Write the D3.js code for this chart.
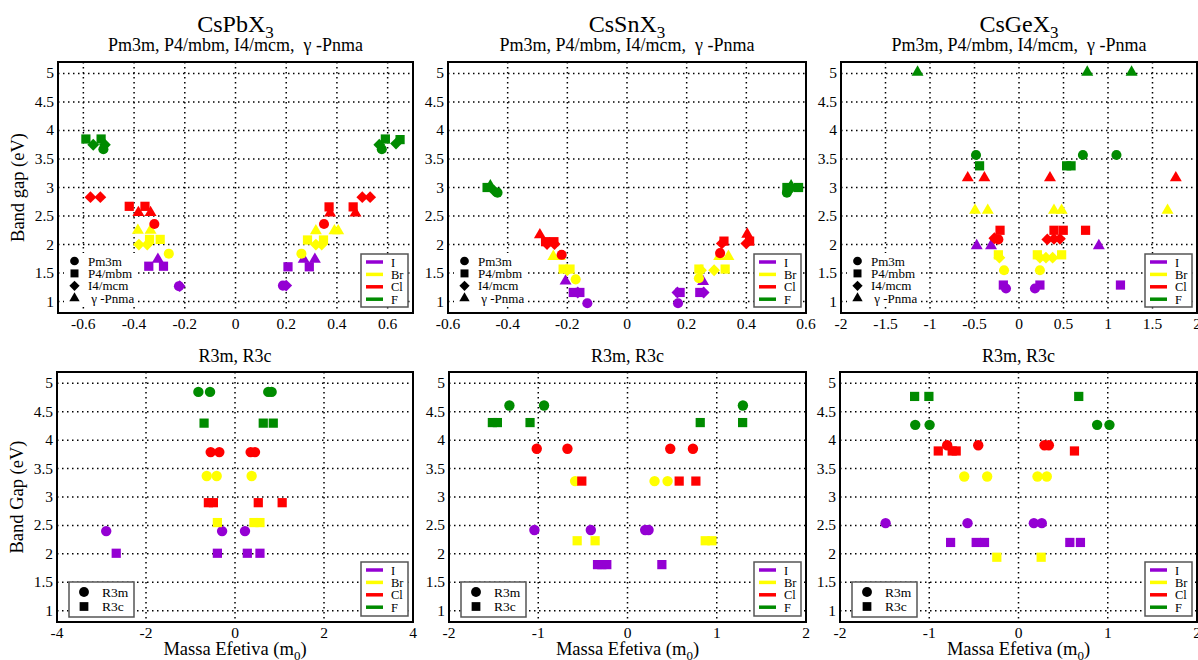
<!DOCTYPE html>
<html>
<head>
<meta charset="utf-8">
<script src="https://cdn.jsdelivr.net/npm/d3@7"></script>
<style>
  body { margin: 0; background: #fff; }
  svg { display: block; }
  text { font-family: "Liberation Serif", "DejaVu Serif", serif; fill: #000; }
</style>
</head>
<body>
<svg id="chart" width="1198" height="660"></svg>
<script>
// halides (colour) and phases (marker shape)
var halides = ["I", "Br", "Cl", "F"];
var halideColors = ["#9400d3", "#ffff00", "#ff0000", "#008b00"];
var cubicPhases = ["Pm3m", "P4/mbm", "I4/mcm", "Pnma"];
var cubicPhaseLabels = ["Pm3m", "P4/mbm", "I4/mcm", " \u03b3 -Pnma"];
var rhombPhases = ["R3m", "R3c"];
var gapTicks = [1, 1.5, 2, 2.5, 3, 3.5, 4, 4.5, 5];

// [halide, phase, effective mass (m0), band gap (eV)]
var pbCubic = [
  ["I","Pnma",-0.306,1.74],["I","P4/mbm",-0.342,1.62],["I","P4/mbm",-0.284,1.62],["I","I4/mcm",-0.22,1.27],["I","Pm3m",-0.223,1.27],
  ["I","P4/mbm",0.207,1.61],["I","P4/mbm",0.291,1.61],["I","Pnma",0.269,1.74],["I","Pnma",0.313,1.74],["I","I4/mcm",0.20,1.28],["I","Pm3m",0.187,1.28],
  ["Br","Pnma",-0.385,2.25],["Br","Pnma",-0.335,2.25],["Br","P4/mbm",-0.339,2.09],["Br","P4/mbm",-0.297,2.09],["Br","I4/mcm",-0.381,2.0],["Br","I4/mcm",-0.348,2.0],["Br","Pm3m",-0.263,1.84],
  ["Br","Pnma",0.317,2.24],["Br","Pnma",0.39,2.24],["Br","Pnma",0.405,2.24],["Br","P4/mbm",0.284,2.08],["Br","P4/mbm",0.347,2.08],["Br","I4/mcm",0.317,2.0],["Br","I4/mcm",0.34,2.0],["Br","Pm3m",0.26,1.84],
  ["Cl","I4/mcm",-0.572,2.83],["Cl","I4/mcm",-0.533,2.83],["Cl","P4/mbm",-0.419,2.67],["Cl","P4/mbm",-0.357,2.67],["Cl","Pnma",-0.383,2.56],["Cl","Pnma",-0.335,2.56],["Cl","Pm3m",-0.320,2.36],
  ["Cl","I4/mcm",0.50,2.83],["Cl","I4/mcm",0.531,2.83],["Cl","P4/mbm",0.369,2.66],["Cl","P4/mbm",0.464,2.66],["Cl","Pnma",0.373,2.55],["Cl","Pnma",0.473,2.55],["Cl","Pm3m",0.349,2.36],
  ["F","P4/mbm",-0.59,3.85],["F","I4/mcm",-0.561,3.75],["F","P4/mbm",-0.53,3.85],["F","I4/mcm",-0.515,3.75],["F","Pm3m",-0.521,3.67],
  ["F","P4/mbm",0.591,3.85],["F","I4/mcm",0.567,3.75],["F","Pm3m",0.577,3.67],["F","P4/mbm",0.649,3.84],["F","I4/mcm",0.633,3.77]
];
var snCubic = [
  ["I","Pnma",-0.206,1.36],["I","P4/mbm",-0.18,1.16],["I","P4/mbm",-0.158,1.16],["I","I4/mcm",-0.165,1.16],["I","Pm3m",-0.133,0.97],
  ["I","Pnma",0.255,1.35],["I","P4/mbm",0.178,1.16],["I","P4/mbm",0.244,1.16],["I","I4/mcm",0.169,1.16],["I","I4/mcm",0.257,1.16],["I","Pm3m",0.171,0.97],
  ["Br","Pnma",-0.247,1.79],["Br","Pnma",-0.225,1.79],["Br","P4/mbm",-0.214,1.57],["Br","P4/mbm",-0.191,1.57],["Br","I4/mcm",-0.2,1.55],["Br","Pm3m",-0.172,1.39],
  ["Br","Pnma",0.309,1.79],["Br","Pnma",0.34,1.79],["Br","P4/mbm",0.241,1.57],["Br","P4/mbm",0.329,1.57],["Br","I4/mcm",0.292,1.55],["Br","I4/mcm",0.248,1.55],["Br","Pm3m",0.241,1.41],
  ["Cl","Pnma",-0.292,2.17],["Cl","P4/mbm",-0.273,2.05],["Cl","P4/mbm",-0.245,2.05],["Cl","I4/mcm",-0.268,2.01],["Cl","I4/mcm",-0.243,2.01],["Cl","Pm3m",-0.219,1.82],
  ["Cl","P4/mbm",0.325,2.06],["Cl","I4/mcm",0.318,2.02],["Cl","Pnma",0.403,2.18],["Cl","P4/mbm",0.411,2.06],["Cl","I4/mcm",0.40,2.02],["Cl","Pm3m",0.312,1.85],
  ["F","P4/mbm",-0.469,3.0],["F","Pnma",-0.458,3.03],["F","I4/mcm",-0.447,2.95],["F","Pm3m",-0.434,2.91],
  ["F","P4/mbm",0.536,3.0],["F","Pm3m",0.536,2.91],["F","I4/mcm",0.545,2.96],["F","Pnma",0.55,3.03],["F","P4/mbm",0.575,3.0]
];
var geCubic = [
  ["I","Pnma",-0.475,1.98],["I","Pnma",-0.314,1.98],["I","Pnma",0.897,1.98],["I","P4/mbm",-0.176,1.29],["I","P4/mbm",0.235,1.29],["I","P4/mbm",1.14,1.29],["I","Pm3m",-0.146,1.23],["I","Pm3m",0.179,1.23],
  ["Br","Pnma",-0.494,2.6],["Br","Pnma",-0.351,2.6],["Br","Pnma",0.393,2.6],["Br","Pnma",0.479,2.6],["Br","Pnma",1.669,2.6],
  ["Br","P4/mbm",-0.232,1.82],["Br","P4/mbm",0.206,1.82],["Br","P4/mbm",0.479,1.82],
  ["Br","I4/mcm",-0.22,1.77],["Br","I4/mcm",0.235,1.77],["Br","I4/mcm",0.303,1.77],["Br","I4/mcm",0.378,1.77],["Br","Pm3m",-0.168,1.55],["Br","Pm3m",0.235,1.55],
  ["Cl","Pnma",-0.576,3.17],["Cl","Pnma",-0.389,3.17],["Cl","Pnma",0.348,3.17],["Cl","Pnma",1.762,3.17],
  ["Cl","P4/mbm",-0.213,2.25],["Cl","P4/mbm",0.393,2.25],["Cl","P4/mbm",0.497,2.25],["Cl","P4/mbm",0.748,2.25],
  ["Cl","I4/mcm",-0.277,2.11],["Cl","I4/mcm",0.318,2.09],["Cl","I4/mcm",0.393,2.1],["Cl","I4/mcm",0.46,2.1],["Cl","Pm3m",-0.232,2.09],
  ["F","Pnma",-1.14,5.02],["F","Pnma",0.767,5.02],["F","Pnma",1.265,5.02],
  ["F","Pm3m",-0.483,3.57],["F","Pm3m",0.718,3.57],["F","Pm3m",1.095,3.57],["F","P4/mbm",-0.443,3.38],["F","P4/mbm",0.535,3.38],["F","P4/mbm",0.585,3.38]
];
var pbRhomb = [
  ["I","R3m",-2.894,2.40],["I","R3m",-0.29,2.40],["I","R3m",0.224,2.40],["I","R3c",-2.669,2.01],["I","R3c",-0.396,2.01],["I","R3c",0.277,2.01],["I","R3c",0.561,2.01],
  ["Br","R3m",-0.635,3.37],["Br","R3m",-0.411,3.37],["Br","R3m",0.374,3.37],["Br","R3c",-0.396,2.55],["Br","R3c",0.426,2.55],["Br","R3c",0.561,2.55],
  ["Cl","R3m",-0.546,3.79],["Cl","R3m",-0.352,3.79],["Cl","R3m",0.352,3.79],["Cl","R3m",0.449,3.79],["Cl","R3c",-0.598,2.90],["Cl","R3c",-0.486,2.90],["Cl","R3c",0.523,2.90],["Cl","R3c",1.06,2.90],
  ["F","R3m",-0.823,4.85],["F","R3m",-0.561,4.85],["F","R3m",0.748,4.85],["F","R3m",0.823,4.85],["F","R3c",-0.695,4.30],["F","R3c",0.635,4.30],["F","R3c",0.86,4.30]
];
var snRhomb = [
  ["I","R3m",-1.043,2.42],["I","R3m",-0.411,2.42],["I","R3m",0.198,2.42],["I","R3m",0.236,2.42],["I","R3c",-0.336,1.81],["I","R3c",-0.288,1.81],["I","R3c",-0.232,1.81],["I","R3c",0.385,1.81],
  ["Br","R3m",-0.587,3.28],["Br","R3m",0.303,3.28],["Br","R3m",0.449,3.28],["Br","R3c",-0.564,2.23],["Br","R3c",-0.363,2.23],["Br","R3c",0.871,2.23],["Br","R3c",0.946,2.23],
  ["Cl","R3m",-1.017,3.85],["Cl","R3m",-0.673,3.85],["Cl","R3m",0.479,3.85],["Cl","R3m",0.733,3.85],["Cl","R3c",-0.512,3.28],["Cl","R3c",0.579,3.28],["Cl","R3c",0.766,3.28],
  ["F","R3m",-1.323,4.61],["F","R3m",-0.935,4.61],["F","R3m",1.293,4.61],["F","R3c",-1.514,4.31],["F","R3c",-1.458,4.31],["F","R3c",-1.092,4.31],["F","R3c",0.815,4.31],["F","R3c",1.29,4.31]
];
var geRhomb = [
  ["I","R3m",-1.489,2.54],["I","R3m",-0.571,2.54],["I","R3m",0.172,2.54],["I","R3m",0.261,2.54],["I","R3c",-0.761,2.20],["I","R3c",-0.474,2.20],["I","R3c",-0.381,2.20],["I","R3c",0.575,2.20],["I","R3c",0.694,2.20],
  ["Br","R3m",-0.608,3.36],["Br","R3m",-0.351,3.36],["Br","R3m",0.213,3.36],["Br","R3m",0.317,3.36],["Br","R3c",-0.243,1.94],["Br","R3c",0.254,1.94],
  ["Cl","R3c",-0.899,3.81],["Cl","R3c",-0.743,3.81],["Cl","R3c",-0.698,3.81],["Cl","R3c",0.627,3.81],["Cl","R3m",-0.799,3.91],["Cl","R3m",-0.451,3.91],["Cl","R3m",0.291,3.91],["Cl","R3m",0.34,3.91],
  ["F","R3c",-1.164,4.77],["F","R3c",-1.004,4.77],["F","R3c",0.675,4.77],["F","R3m",-1.157,4.27],["F","R3m",-0.996,4.27],["F","R3m",0.881,4.27],["F","R3m",1.019,4.27]
];

var svg = d3.select("#chart");
var color = d3.scaleOrdinal(halides, halideColors);

// diamond drawn as a rotated square
var symbolRhombus = {
  draw: function(ctx, size) {
    var r = Math.sqrt(size / 2);
    ctx.moveTo(0, -r); ctx.lineTo(r, 0); ctx.lineTo(0, r); ctx.lineTo(-r, 0); ctx.closePath();
  }
};
var shapeOf = {
  "Pm3m": [d3.symbolCircle, 80], "P4/mbm": [d3.symbolSquare, 85], "I4/mcm": [symbolRhombus, 70], "Pnma": [d3.symbolTriangle, 62],
  "R3m": [d3.symbolCircle, 85], "R3c": [d3.symbolSquare, 85]
};
function marker(phase, k) {
  var s = shapeOf[phase];
  return d3.symbol(s[0], s[1] * (k || 1))();
}
function fmt(v) { return String(+v.toFixed(2)); }

var topRow = { y0: 62, y1: 313 }, botRow = { y0: 372, y1: 622 };
var cubicSub = "Pm3m, P4/mbm, I4/mcm,  \u03b3 -Pnma";

var panels = [
  { data: pbCubic, row: topRow, x0: 58, x1: 413, dom: [-0.7, 0.7], ticks: d3.range(-3, 4).map(function(d){ return d * 0.2; }), name: "CsPb", sub: cubicSub, ylabel: "Band gap (eV)", cubic: true },
  { data: snCubic, row: topRow, x0: 448, x1: 806, dom: [-0.6, 0.6], ticks: d3.range(-3, 4).map(function(d){ return d * 0.2; }), name: "CsSn", sub: cubicSub, cubic: true },
  { data: geCubic, row: topRow, x0: 841, x1: 1197, dom: [-2, 2], ticks: d3.range(-4, 5).map(function(d){ return d * 0.5; }), name: "CsGe", sub: cubicSub, cubic: true },
  { data: pbRhomb, row: botRow, x0: 57, x1: 413, dom: [-4, 4], ticks: [-4, -2, 0, 2, 4], sub: "R3m, R3c", ylabel: "Band Gap (eV)", xlabel: true },
  { data: snRhomb, row: botRow, x0: 449, x1: 806, dom: [-2, 2], ticks: [-2, -1, 0, 1, 2], sub: "R3m, R3c", xlabel: true },
  { data: geRhomb, row: botRow, x0: 840, x1: 1197, dom: [-2, 2], ticks: [-2, -1, 0, 1, 2], sub: "R3m, R3c", xlabel: true }
];

panels.forEach(function(p) {
  var y0 = p.row.y0, y1 = p.row.y1;
  var x = d3.scaleLinear().domain(p.dom).range([p.x0, p.x1]);
  var y = d3.scaleLinear().domain([0.8, 5.2]).range([y1, y0]);
  var cx = (p.x0 + p.x1) / 2;
  var g = svg.append("g");

  // dotted grid
  g.selectAll(".gx").data(p.ticks).enter().append("line")
    .attr("x1", function(d){ return x(d); }).attr("x2", function(d){ return x(d); })
    .attr("y1", y0).attr("y2", y1)
    .attr("stroke", "#000").attr("stroke-width", 1.5).attr("stroke-dasharray", "1.5 3.5");
  g.selectAll(".gy").data(gapTicks).enter().append("line")
    .attr("x1", p.x0).attr("x2", p.x1)
    .attr("y1", function(d){ return y(d); }).attr("y2", function(d){ return y(d); })
    .attr("stroke", "#000").attr("stroke-width", 1.5).attr("stroke-dasharray", "1.5 3.5");

  // tick labels
  g.selectAll(".tx").data(p.ticks).enter().append("text")
    .attr("x", function(d){ return x(d); }).attr("y", y1 + 16)
    .attr("text-anchor", "middle").attr("font-size", 15.5).text(fmt);
  g.selectAll(".ty").data(gapTicks).enter().append("text")
    .attr("x", p.x0 - 4).attr("y", function(d){ return y(d) + 5; })
    .attr("text-anchor", "end").attr("font-size", 15.5).text(fmt);

  // phase legend background (top row legend has no border but hides the grid)
  if (p.cubic) {
    g.append("rect").attr("x", p.x0 + 6).attr("y", y1 - 60)
      .attr("width", 72).attr("height", 52).attr("fill", "#fff");
  }

  // points
  g.selectAll(".pt").data(p.data).enter().append("path")
    .attr("transform", function(d){ return "translate(" + x(d[2]) + "," + y(d[3]) + ")"; })
    .attr("d", function(d){ return marker(d[1]); })
    .attr("fill", function(d){ return color(d[0]); });

  // frame
  g.append("rect").attr("x", p.x0).attr("y", y0)
    .attr("width", p.x1 - p.x0).attr("height", y1 - y0)
    .attr("fill", "none").attr("stroke", "#000").attr("stroke-width", 2);

  // titles
  if (p.name) {
    var t = g.append("text").attr("x", cx).attr("y", 32).attr("text-anchor", "middle").attr("font-size", 24);
    t.append("tspan").text(p.name + "X");
    t.append("tspan").attr("font-size", 17).attr("dy", 6).text("3");
    g.append("text").attr("x", cx).attr("y", 51).attr("text-anchor", "middle")
      .attr("font-size", 18).attr("xml:space", "preserve").style("white-space", "pre").text(p.sub);
  } else {
    g.append("text").attr("x", cx).attr("y", 362).attr("text-anchor", "middle").attr("font-size", 18).text(p.sub);
  }

  if (p.ylabel) {
    g.append("text").attr("transform", "translate(" + (p.x0 - 34) + "," + ((y0 + y1) / 2) + ") rotate(-90)")
      .attr("text-anchor", "middle").attr("font-size", 18.5).text(p.ylabel);
  }
  if (p.xlabel) {
    var xl = g.append("text").attr("x", cx).attr("y", 655).attr("text-anchor", "middle").attr("font-size", 18.5);
    xl.append("tspan").text("Massa Efetiva (m");
    xl.append("tspan").attr("font-size", 13).attr("dy", 5).text("0");
    xl.append("tspan").attr("dy", -5).text(")");
  }

  // halide legend (box, bottom right)
  var bh = p.cubic ? 53 : 54;
  var bx = p.x1 - 52, by = y1 - 6 - bh;
  var lg = g.append("g");
  lg.append("rect").attr("x", bx).attr("y", by).attr("width", 47).attr("height", bh)
    .attr("fill", "#fff").attr("stroke", "#555").attr("stroke-width", 1.5);
  halides.forEach(function(h, i) {
    var ry = by + 8 + i * 12.4;
    lg.append("line").attr("x1", bx + 5).attr("x2", bx + 22).attr("y1", ry).attr("y2", ry)
      .attr("stroke", color(h)).attr("stroke-width", 3.5);
    lg.append("text").attr("x", bx + 30).attr("y", ry + 4.5).attr("font-size", 12.5).text(h);
  });

  // phase legend (bottom left)
  var sg = g.append("g");
  if (p.cubic) {
    cubicPhases.forEach(function(ph, i) {
      var ry = y1 - 52 + i * 12.4;
      sg.append("path").attr("transform", "translate(" + (p.x0 + 16.5) + "," + ry + ")")
        .attr("d", marker(ph, 0.75)).attr("fill", "#000");
      sg.append("text").attr("x", p.x0 + 30).attr("y", ry + 4.5).attr("font-size", 13)
        .attr("xml:space", "preserve").style("white-space", "pre").text(cubicPhaseLabels[i]);
    });
  } else {
    var sx = p.x0 + 12, sy = y1 - 40;
    sg.append("rect").attr("x", sx).attr("y", sy).attr("width", 65).attr("height", 35)
      .attr("fill", "#fff").attr("stroke", "#555").attr("stroke-width", 1.5);
    rhombPhases.forEach(function(ph, i) {
      var ry = sy + 10 + i * 14.5;
      sg.append("path").attr("transform", "translate(" + (sx + 15) + "," + ry + ")")
        .attr("d", marker(ph, 0.9)).attr("fill", "#000");
      sg.append("text").attr("x", sx + 33).attr("y", ry + 4.5).attr("font-size", 13.5).text(ph);
    });
  }
});
</script>
</body>
</html>
